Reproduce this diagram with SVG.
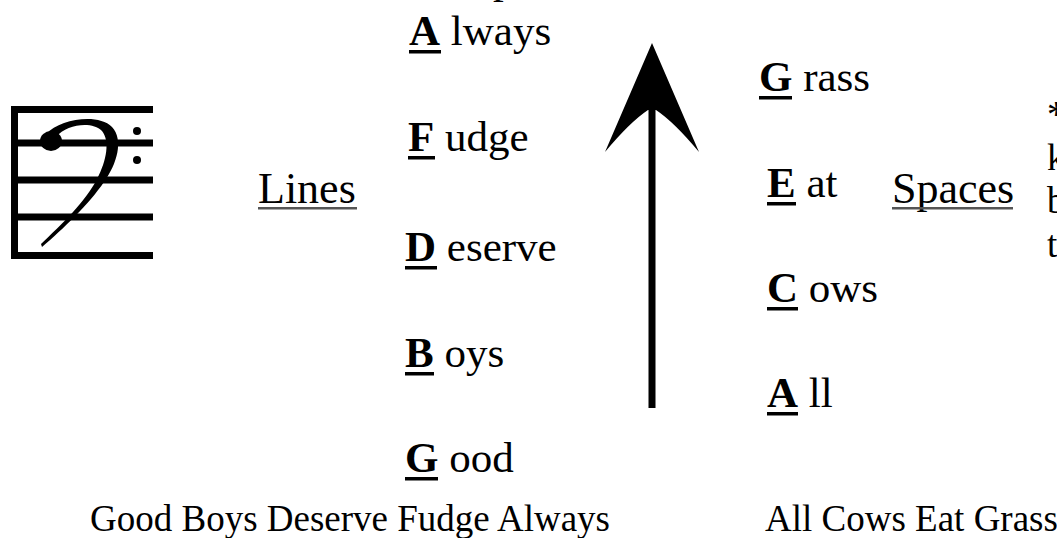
<svg xmlns="http://www.w3.org/2000/svg" width="1057" height="538" viewBox="0 0 1057 538">
<style>
text{font-family:"Liberation Serif","Times New Roman",serif;fill:#000}
.w{font-size:43px}
.b{font-weight:bold}
.lbl{font-size:44px}
.cap{font-size:37px}
.ul{fill:#000}
.ulg{fill:#555}
.staff{stroke:#000;stroke-width:7;fill:none}
</style>
<rect width="1057" height="538" fill="#fff"/>
<g id="clipped-top"><text class="w" x="493" y="-7">p</text></g>
<g id="bass-clef">
  <path class="staff" d="M11 109.5H153M11 143H153M11 180H153M11 217H153M11 255.5H153M14.5 106V259"/>
  <ellipse cx="51" cy="141" rx="11" ry="10"/>
  <path d="M46 134 C60 119 98 113 112 127 C124 140 117 164 104 182 C89 204 63 229 42 247 L41 244 C61 225 86 201 97 179 C107 160 110 141 102 131 C92 121 67 124 56 137 Z"/>
  <circle cx="137" cy="131" r="4"/>
  <circle cx="137" cy="160" r="4"/>
</g>
<g id="lines-label">
  <text class="lbl" x="258" y="203">Lines</text>
  <rect class="ulg" x="258" y="207" width="99" height="2.5"/>
</g>
<g id="word-always"><text class="w" x="409" y="45"><tspan class="b">A</tspan> lways</text><rect class="ul" x="409" y="50" width="32" height="3.5"/></g>
<g id="word-fudge"><text class="w" x="408" y="151"><tspan class="b">F</tspan> udge</text><rect class="ul" x="408" y="156" width="27" height="3.5"/></g>
<g id="word-deserve"><text class="w" x="405" y="261"><tspan class="b">D</tspan> eserve</text><rect class="ul" x="405" y="266" width="32" height="3.5"/></g>
<g id="word-boys"><text class="w" x="405" y="367"><tspan class="b">B</tspan> oys</text><rect class="ul" x="405" y="372" width="29" height="3.5"/></g>
<g id="word-good"><text class="w" x="405" y="472"><tspan class="b">G</tspan> ood</text><rect class="ul" x="405" y="477" width="33" height="3.5"/></g>
<g id="connectors">
  <rect x="648.5" y="105" width="7" height="303"/>
  <path d="M652 43 L699 152 Q674 122 656 110 L648 110 Q630 122 605 152 Z"/>
</g>
<g id="word-grass"><text class="w" x="759" y="91"><tspan class="b">G</tspan> rass</text><rect class="ul" x="759" y="96" width="33" height="3.5"/></g>
<g id="word-eat"><text class="w" x="767" y="197"><tspan class="b">E</tspan> at</text><rect class="ul" x="767" y="202" width="29" height="3.5"/></g>
<g id="word-cows"><text class="w" x="767" y="302"><tspan class="b">C</tspan> ows</text><rect class="ul" x="767" y="307" width="31" height="3.5"/></g>
<g id="word-all"><text class="w" x="767" y="407"><tspan class="b">A</tspan> ll</text><rect class="ul" x="767" y="412" width="31" height="3.5"/></g>
<g id="spaces-label">
  <text class="lbl" x="892" y="203">Spaces</text>
  <rect class="ulg" x="892" y="207" width="121" height="2.5"/>
</g>
<g id="side-note">
  <text class="cap" x="1047" y="127">*</text>
  <text class="cap" x="1047" y="170">k</text>
  <text class="cap" x="1047" y="213">b</text>
  <text class="cap" x="1047" y="257">t</text>
</g>
<g id="caption-lines"><text class="cap" x="90" y="531">Good Boys Deserve Fudge Always</text></g>
<g id="caption-spaces"><text class="cap" x="765" y="531">All Cows Eat Grass</text></g>
</svg>
